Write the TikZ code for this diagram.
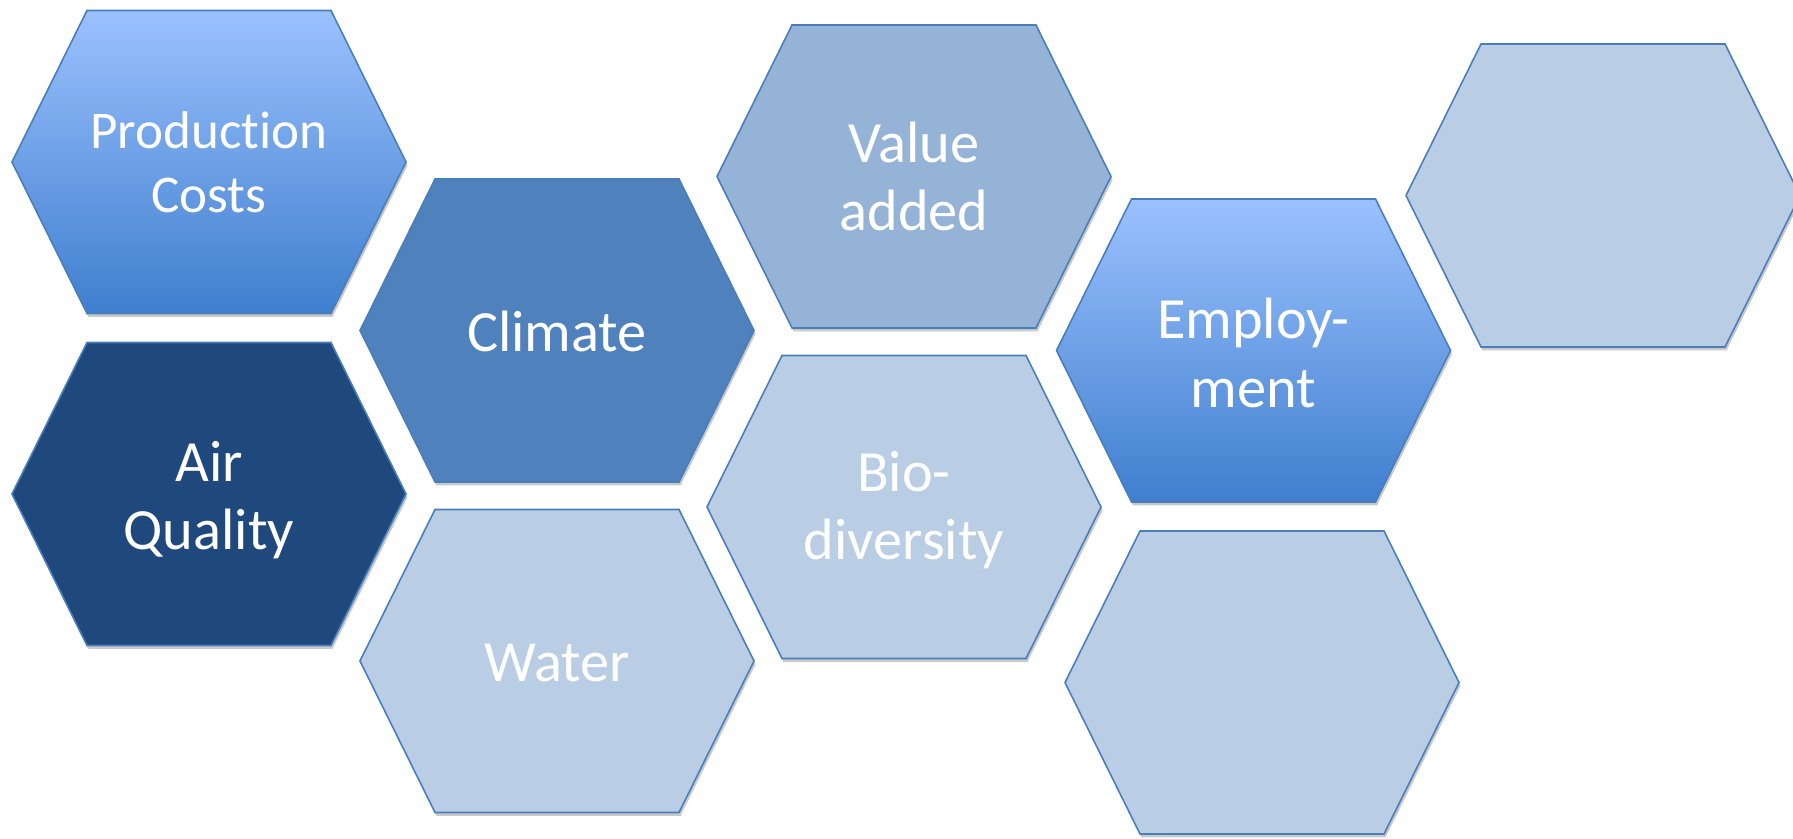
\documentclass[tikz,border=0pt]{standalone}
\usepackage{fontspec}
\setmainfont{Carlito}[Ligatures={NoCommon}]
\usepackage{xcolor}
\usepackage{tikz}
\usetikzlibrary{shadows}

\definecolor{hexline}{RGB}{74,126,187}
\definecolor{hexpale}{RGB}{185,205,229}
\definecolor{hexsoft}{RGB}{149,179,215}
\definecolor{hexmid}{RGB}{79,129,189}
\definecolor{hexdark}{RGB}{31,73,125}
\definecolor{gradtop}{RGB}{155,193,254}
\definecolor{gradbottom}{RGB}{63,127,206}

\tikzset{
  hexcell/.style={draw=hexline, line width=0.9pt, line join=miter,
    drop shadow={shadow xshift=0.03cm, shadow yshift=-0.07cm, opacity=0.3, fill=black!70}},
  hexpalecell/.style={hexcell, fill=hexpale},
  hexsoftcell/.style={hexcell, fill=hexsoft},
  hexmidcell/.style={hexcell, fill=hexmid},
  hexdarkcell/.style={hexcell, fill=hexdark},
  hexgradcell/.style={hexcell, top color=gradtop, bottom color=gradbottom},
  hexlabel/.style={text=white, align=center, inner sep=0pt,
    font=\fontsize{33.2}{38.8}\selectfont},
  hexsmalllabel/.style={hexlabel, font=\fontsize{30.2}{36.4}\selectfont}
}

\begin{document}
\begin{tikzpicture}[scale=1]
\useasboundingbox (0,0) rectangle (35.86,16.78);
\clip (0,0) rectangle (35.86,16.78);

\draw[hexgradcell,shift={(4.18,13.54)}] (-3.94,0) -- (-2.44,3.03) -- (2.44,3.03) -- (3.94,0) -- (2.44,-3.03) -- (-2.44,-3.03) -- cycle;
\node[hexsmalllabel] (costs) at (4.18,13.54) {Production\\Costs};

\draw[hexdarkcell,shift={(4.18,6.90)}] (-3.94,0) -- (-2.44,3.03) -- (2.44,3.03) -- (3.94,0) -- (2.44,-3.03) -- (-2.44,-3.03) -- cycle;
\node[hexlabel] (air) at (4.18,6.77) {Air\\Quality};

\draw[hexmidcell,shift={(11.14,10.17)}] (-3.94,0) -- (-2.44,3.03) -- (2.44,3.03) -- (3.94,0) -- (2.44,-3.03) -- (-2.44,-3.03) -- cycle;
\node[hexlabel] (climate) at (11.14,10.15) {Climate};

\draw[hexpalecell,shift={(11.14,3.56)}] (-3.94,0) -- (-2.44,3.03) -- (2.44,3.03) -- (3.94,0) -- (2.44,-3.03) -- (-2.44,-3.03) -- cycle;
\node[hexlabel] (water) at (11.14,3.52) {Water};

\draw[hexsoftcell,shift={(18.28,13.25)}] (-3.94,0) -- (-2.44,3.03) -- (2.44,3.03) -- (3.94,0) -- (2.44,-3.03) -- (-2.44,-3.03) -- cycle;
\node[hexlabel] (value) at (18.28,13.25) {Value\\added};

\draw[hexpalecell,shift={(18.08,6.64)}] (-3.94,0) -- (-2.44,3.03) -- (2.44,3.03) -- (3.94,0) -- (2.44,-3.03) -- (-2.44,-3.03) -- cycle;
\node[hexlabel] (biodiv) at (18.08,6.58) {Bio-\\diversity};

\draw[hexgradcell,shift={(25.07,9.77)}] (-3.94,0) -- (-2.44,3.03) -- (2.44,3.03) -- (3.94,0) -- (2.44,-3.03) -- (-2.44,-3.03) -- cycle;
\node[hexlabel] (employ) at (25.07,9.72) {Employ-\\ment};

\draw[hexpalecell,shift={(25.24,3.13)}] (-3.94,0) -- (-2.44,3.03) -- (2.44,3.03) -- (3.94,0) -- (2.44,-3.03) -- (-2.44,-3.03) -- cycle;

\draw[hexpalecell,shift={(32.06,12.87)}] (-3.94,0) -- (-2.44,3.03) -- (2.44,3.03) -- (3.94,0) -- (2.44,-3.03) -- (-2.44,-3.03) -- cycle;
\end{tikzpicture}
\end{document}
